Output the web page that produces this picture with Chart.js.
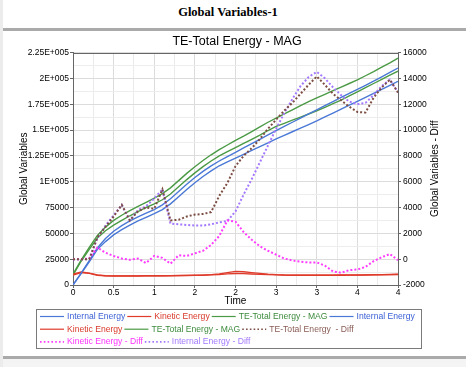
<!DOCTYPE html>
<html><head><meta charset="utf-8">
<script src="https://cdn.jsdelivr.net/npm/chart.js@4"></script>
<style>
html,body{margin:0;padding:0;background:#fff;}
#page{position:relative;width:466px;height:367px;overflow:hidden;background:#fff;}
#strip{position:absolute;left:0;top:0;width:3px;height:367px;background:#ececec;}
#ptitle{position:absolute;left:0;top:5px;width:456px;text-align:center;font:bold 12.5px "Liberation Serif","Times New Roman",serif;color:#000;line-height:14px;}
#line1{position:absolute;left:3px;top:28px;width:463px;height:3px;background:#aaa;}
#line2{position:absolute;left:3px;top:356px;width:463px;height:3px;background:#aaa;}
#foot{position:absolute;left:3px;top:359px;width:463px;height:8px;background:#f4f4f4;}
#c{position:absolute;left:0;top:0;}
</style></head>
<body>
<div id="page">
<div id="strip"></div>
<div id="ptitle">Global Variables-1</div>
<div id="line1"></div>
<div id="line2"></div>
<div id="foot"></div>
<canvas id="c" width="466" height="367"></canvas>
</div>
<script>
// ---------- data ----------
const time = [0,0.1,0.2,0.3,0.4,0.5,0.6,0.7,0.8,0.9,1.0,1.1,1.2,1.3,1.4,1.5,1.6,1.7,1.8,1.9,2.0,2.1,2.2,2.3,2.4,2.5,2.6,2.7,2.8,2.9,3.0,3.1,3.2,3.3,3.4,3.5,3.6,3.7,3.8,3.9,4.0];

const internal1 = [0,11500,23500,36000,45000,52000,57500,62000,66000,69500,73000,77500,83500,90500,97500,104000,110000,115200,120000,124200,128400,132600,136800,141000,145200,149400,153500,157500,161500,165500,169500,173500,177500,181500,185500,189300,193300,197300,201500,205700,210000];
const kinetic1 = [10500,12500,11500,9800,9000,8800,8800,8800,8800,8900,9000,9000,9100,9200,9300,9400,9600,10000,10800,12000,13200,12800,12000,11200,10500,10000,9700,9600,9600,9600,9600,9600,9600,9700,9700,9700,9800,9900,10000,10200,10400];
const total1 = [10500,24000,36500,48000,56000,62500,67500,72000,76000,80000,84000,88500,94000,101000,108000,114500,120500,126000,131000,135500,140000,144000,148500,153000,157500,161500,165500,169500,173500,177500,181000,184500,188000,191500,195000,198500,202500,206500,210800,215000,219500];
const internal2 = [0,11000,22500,34500,42000,48500,53500,58000,62000,65500,69000,73000,78500,85500,92500,99000,105000,110500,115400,119100,122800,126500,130200,133900,137600,141300,144800,148300,151800,155300,158800,162600,166400,170200,174000,177800,181600,185400,189300,193200,197100];
const kinetic2 = [9500,12000,11200,9500,8800,8700,8700,8700,8700,8800,8900,8900,9000,9100,9200,9300,9500,9800,10200,10800,11200,11000,10700,10300,10000,9800,9600,9500,9500,9500,9500,9500,9500,9500,9600,9600,9700,9800,9900,10000,10100];
const total2 = [9500,23000,34500,45500,52500,58000,62500,67000,71000,75000,78500,82500,88000,95000,102000,108500,114500,120000,125000,129000,133000,137000,141000,145000,149500,153500,156500,159500,162500,165500,168500,172000,175500,179000,183000,187000,191000,195000,199000,203000,207000];
const teDiff = [0,0,0,1700,2500,3300,4200,3000,3700,4000,3900,5400,3000,3050,3300,3450,3500,3650,4900,5900,7200,8000,8600,9300,10100,10800,11500,12100,12800,13500,14150,13500,12800,12300,11800,11400,11350,12500,13300,13900,12900];
const keDiff = [0,0,50,900,500,250,50,-50,50,-300,250,100,-350,300,250,450,650,1100,1800,3000,2900,2100,1500,1000,650,350,50,-100,-200,-250,-250,-500,-950,-1050,-850,-800,-600,-150,150,400,-80];
const ieDiff = [0,0,0,1600,2600,3400,4200,3000,3800,4100,4700,5400,2750,2700,2650,2600,2600,2700,2850,2950,3700,5000,6200,7500,8800,10100,11300,12400,13400,14100,14500,14000,13300,12700,12200,12000,12100,12700,13400,13900,12900];

const seriesLabels = ['Internal Energy','Kinetic Energy','TE-Total Energy - MAG','Internal Energy','Kinetic Energy','TE-Total Energy - MAG','TE-Total Energy  - Diff','Kinetic Energy - Diff','Internal Energy - Diff'];
const xTickLabels = ['0','0.5','1','2','2','3','3','4','4'];
const yLeftTickLabels = ['0','25000','50000','75000','1E+005','1.25E+005','1.5E+005','1.75E+005','2E+005','2.25E+005'];
const yRightTickLabels = ['-2000','0','2000','4000','6000','8000','10000','12000','14000','16000'];
const chartTitle = 'TE-Total Energy - MAG';
const xTitle = 'Time';
const yLeftTitle = 'Global Variables';
const yRightTitle = 'Global Variables - Diff';

// ---------- styles ----------
const FONT = '"Liberation Sans", Arial, sans-serif';
const BLUE = '#4a78d6', RED = '#df3b2b', GREEN = '#4b9a45', BROWN = '#7d4e44', MAGENTA = '#ff3cff', PURPLE = '#a479ff';
const legendTextColors = ['#3a5fd6','#d9382a','#3d8b3d','#3a5fd6','#d9382a','#3d8b3d','#8a5c55','#ff33ff','#a37bff'];

const pts = arr => arr.map((v, i) => ({x: time[i], y: v}));
function solid(label, data, color) {
  return {label, data: pts(data), borderColor: color, backgroundColor: color, borderWidth: 1.4, pointRadius: 0, tension: 0, yAxisID: 'y', order: 1};
}
function dotted(label, data, color) {
  return {label, data: pts(data), borderColor: color, backgroundColor: color, borderWidth: 2, borderDash: [2, 2], pointRadius: 0, tension: 0, yAxisID: 'y1', order: 0};
}

Chart.defaults.font.family = FONT;
Chart.defaults.color = '#000';

const framePlugin = {
  id: 'frameAndLegend',
  beforeDatasetsDraw(chart) {
    const {ctx, chartArea: a} = chart;
    ctx.save();
    ctx.strokeStyle = '#666'; ctx.lineWidth = 1;
    const yt = Math.round(a.top) + 0.5;
    ctx.beginPath(); ctx.moveTo(a.left, yt); ctx.lineTo(a.right + 1, yt); ctx.stroke();
    ctx.restore();
  },
  afterDraw(chart) {
    const {ctx, chartArea: a} = chart;
    // right axis title (reads bottom to top)
    ctx.save();
    ctx.translate(435, (a.top + a.bottom) / 2);
    ctx.rotate(-Math.PI / 2);
    ctx.font = '10px ' + FONT; ctx.fillStyle = '#000';
    ctx.textAlign = 'center'; ctx.textBaseline = 'middle';
    ctx.fillText(yRightTitle, 0, 0);
    ctx.restore();
    // legend
    const rows = [[0,1,2,3],[4,5,6],[7,8]];
    ctx.save();
    ctx.font = '8.6px ' + FONT;
    ctx.textBaseline = 'middle'; ctx.textAlign = 'left';
    rows.forEach((row, r) => {
      let x = 40; const y = 316.5 + r * 12.7;
      row.forEach(i => {
        const ds = chart.data.datasets[i];
        ctx.strokeStyle = ds.borderColor;
        ctx.lineWidth = ds.borderDash ? 1.6 : 1.2;
        ctx.setLineDash(ds.borderDash ? [1.6, 2.2] : []);
        ctx.beginPath(); ctx.moveTo(x, y); ctx.lineTo(x + 24, y); ctx.stroke();
        ctx.setLineDash([]);
        ctx.fillStyle = legendTextColors[i];
        ctx.fillText(ds.label, x + 27, y);
        x += 27 + ctx.measureText(ds.label).width + 2;
      });
    });
    ctx.strokeStyle = '#7a7a7a'; ctx.lineWidth = 1;
    ctx.strokeRect(36.5, 309.5, 385, 39);
    ctx.restore();
  }
};

const isMajorX = v => Math.round(v * 4) % 2 === 0;
const isMajorY = v => Math.round(v / 12500) % 2 === 0;

new Chart(document.getElementById('c'), {
  type: 'line',
  data: {
    datasets: [
      solid(seriesLabels[0], internal1, BLUE),
      solid(seriesLabels[1], kinetic1, RED),
      solid(seriesLabels[2], total1, GREEN),
      solid(seriesLabels[3], internal2, BLUE),
      solid(seriesLabels[4], kinetic2, RED),
      solid(seriesLabels[5], total2, GREEN),
      dotted(seriesLabels[6], teDiff, BROWN),
      dotted(seriesLabels[7], keDiff, MAGENTA),
      dotted(seriesLabels[8], ieDiff, PURPLE)
    ]
  },
  options: {
    responsive: false,
    animation: false,
    layout: {padding: {left: 8, right: 0, top: 31.5, bottom: 58}},
    plugins: {
      legend: {display: false},
      tooltip: {enabled: false},
      title: {display: true, text: chartTitle, color: '#000', font: {size: 12.5, weight: 'normal', family: FONT}, padding: {top: 2.5, bottom: 3.5}}
    },
    scales: {
      x: {
        type: 'linear', position: 'bottom', min: 0, max: 4,
        afterFit(s) { s.height = 24; },
        ticks: {stepSize: 0.25, autoSkip: false, maxRotation: 0, padding: 0, font: {size: 8.5}, color: '#000',
          callback(v) { const k = Math.round(v * 4); return k % 2 === 0 ? xTickLabels[k / 2] : ''; }},
        grid: {color: c => isMajorX(c.tick.value) ? '#dcdcdc' : '#ebebeb', tickLength: 3,
          tickColor: c => isMajorX(c.tick.value) ? '#666' : 'rgba(0,0,0,0)'},
        border: {display: true, color: '#666'},
        title: {display: true, text: xTitle, color: '#000', font: {size: 10}, padding: {top: 0, bottom: 2}}
      },
      y: {
        type: 'linear', position: 'left', min: 0, max: 225000,
        afterFit(s) { s.width = 65; },
        ticks: {stepSize: 12500, autoSkip: false, padding: 1, font: {size: 8.5}, color: '#000',
          callback(v) { const k = Math.round(v / 12500); return k % 2 === 0 ? yLeftTickLabels[k / 2] : ''; }},
        grid: {color: c => isMajorY(c.tick.value) ? '#dcdcdc' : '#ededed', tickLength: 3,
          tickColor: c => isMajorY(c.tick.value) ? '#666' : 'rgba(0,0,0,0)'},
        border: {display: true, color: '#666'},
        title: {display: true, text: yLeftTitle, color: '#000', font: {size: 10}, padding: {top: 10, bottom: 0}}
      },
      y1: {
        type: 'linear', position: 'right', min: -2000, max: 16000,
        afterFit(s) { s.width = 68; },
        ticks: {stepSize: 2000, autoSkip: false, padding: 2, font: {size: 8.5}, color: '#000',
          callback(v) { return yRightTickLabels[Math.round((v + 2000) / 2000)]; }},
        grid: {drawOnChartArea: false, tickLength: 3, color: '#666'},
        border: {display: true, color: '#666'}
      }
    }
  },
  plugins: [framePlugin]
});
</script>
</body></html>
